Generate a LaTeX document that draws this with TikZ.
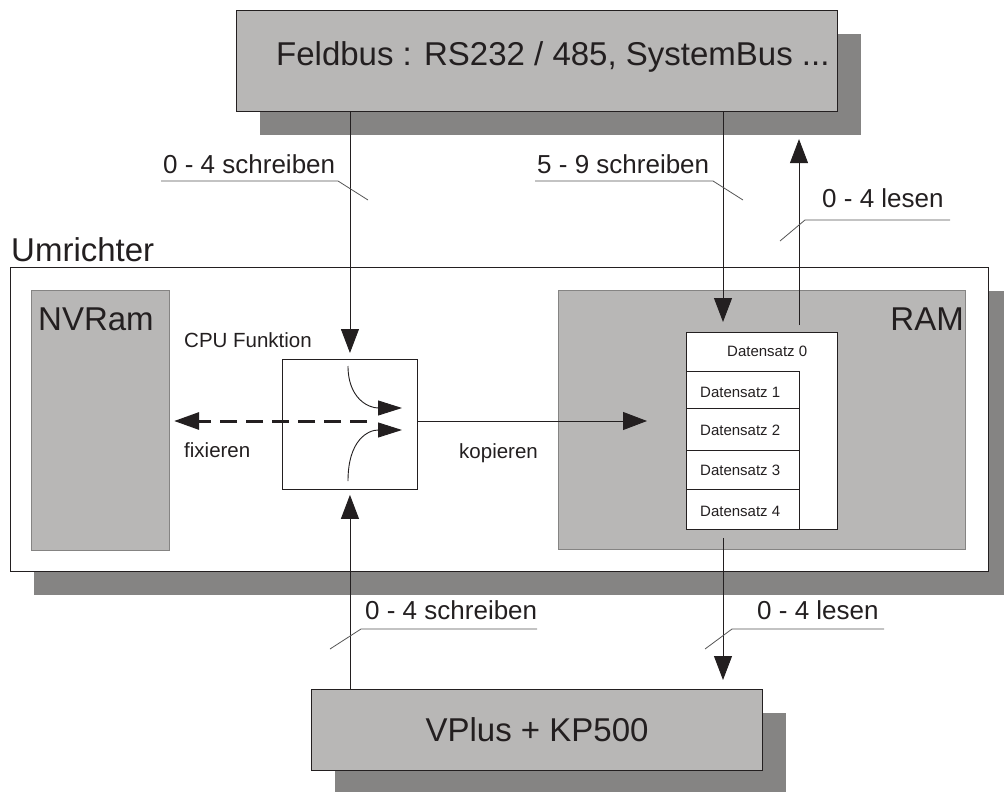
\documentclass[tikz,border=0pt]{standalone}
\usepackage{fontspec}
\setmainfont{Liberation Sans}
\usetikzlibrary{arrows.meta,shadows,calc}
\definecolor{boxgray}{RGB}{184,183,182}
\definecolor{shgray}{RGB}{133,132,131}
\definecolor{ink}{RGB}{35,31,32}
\definecolor{lead}{RGB}{85,85,85}
\begin{document}
\begin{tikzpicture}[x=1pt,y=-1pt,
  shd/.style={drop shadow={shadow xshift=23pt, shadow yshift=-23pt, fill=shgray, opacity=1}},
  gbox/.style={draw=ink, line width=1.1pt, fill=boxgray, inner sep=0pt, anchor=north west},
  wbox/.style={draw=ink, line width=0.9pt, fill=white, inner sep=0pt, anchor=north west},
  big/.style={font=\fontsize{33}{36}\selectfont, text=ink, inner sep=0pt, anchor=base west},
  mid/.style={font=\fontsize{26}{28}\selectfont, text=ink, inner sep=0pt, anchor=base west},
  sml/.style={font=\fontsize{20.5}{22}\selectfont, text=ink, inner sep=0pt, anchor=base west},
  tiny/.style={font=\fontsize{15}{17}\selectfont, text=ink, inner sep=0pt, anchor=base west},
  arr/.style={draw=ink, line width=0.9pt, -{Triangle[length=24pt,width=18pt]}},
  carr/.style={draw=ink, line width=0.9pt, -{Triangle[length=24pt,width=15pt]}},
  dasharr/.style={draw=ink, line width=3pt, dash pattern=on 17pt off 9pt, -{Triangle[length=25pt,width=17pt]}},
  leader/.style={draw=lead, line width=0.8pt}
]
\useasboundingbox (0,0) rectangle (1004,792);

% main boxes with shadows
\node[wbox, shd, line width=1.1pt, minimum width=978pt, minimum height=304pt] (umr) at (10,267) {};
\node[gbox, shd, minimum width=601pt, minimum height=101pt] (feld) at (236,10) {};
\node[gbox, shd, minimum width=451pt, minimum height=81pt] (vplus) at (311,689) {};

\node[big] (feldt) at (276,66) {Feldbus : RS232 / 485, SystemBus ...};
\node[big, anchor=center] (vplust) at (vplus.center) {VPlus + KP500};
\node[big] (umrt) at (11,261) {Umrichter};

% inner boxes
\node[gbox, draw=shgray, minimum width=138pt, minimum height=260pt] (nv) at (31,290) {};
\node[big] (nvt) at (38,330) {NVRam};
\node[gbox, draw=shgray, minimum width=407pt, minimum height=259pt] (ram) at (558,290) {};
\node[big, anchor=base east] (ramt) at (964,330) {RAM};
\node[wbox, minimum width=135pt, minimum height=130pt] (cpu) at (282,359) {};
\node[sml] (cput) at (184,347) {CPU Funktion};
\node[sml] (fixt) at (184,457) {fixieren};
\node[sml] (kopt) at (459,458) {kopieren};

% Datensatz block
\node[wbox, minimum width=151pt, minimum height=197pt] (ds) at (686,332) {};
\node[wbox, minimum width=113pt, minimum height=37pt] (ds1) at (686,371) {};
\node[wbox, minimum width=113pt, minimum height=42pt] (ds2) at (686,408) {};
\node[wbox, minimum width=113pt, minimum height=39pt] (ds3) at (686,450) {};
\node[wbox, minimum width=113pt, minimum height=40pt] (ds4) at (686,489) {};
\node[tiny] (ds0t) at (727,356) {Datensatz 0};
\node[tiny] (ds1t) at (700,397) {Datensatz 1};
\node[tiny] (ds2t) at (700,435) {Datensatz 2};
\node[tiny] (ds3t) at (700,475) {Datensatz 3};
\node[tiny] (ds4t) at (700,516) {Datensatz 4};

% helper coordinates
\coordinate (xw) at (723,0);
\coordinate (xr) at (799,0);
\coordinate (dstart) at (367,421);
\coordinate (ktip) at (647,421);
\coordinate (c1a) at (348,366);
\coordinate (c1b) at (402,408);
\coordinate (c2a) at (348,481);
\coordinate (c2b) at (402,430);

% connectors
\draw[arr, shorten >=6pt] (cpu.north |- feld.south) -- (cpu.north);
\draw[arr, shorten >=5pt] (cpu.south |- vplus.north) -- (cpu.south);
\draw[arr, shorten >=10pt] (xw |- feld.south) -- (xw |- ds.north);
\draw[arr, shorten <=7pt, shorten >=27pt] (xr |- ds.north) -- (xr |- feld.south);
\draw[arr, shorten <=8pt, shorten >=9pt] (xw |- ds.south) -- (xw |- vplus.north);
\draw[arr] (cpu.east |- ktip) -- (ktip);
\draw[dasharr, shorten >=4pt] (dstart) -- (nv.east |- dstart);
\draw[carr] (c1a) .. controls (348,398) and (368,408) .. (c1b);
\draw[carr] (c2a) .. controls (348,440) and (368,430) .. (c2b);

% labels with leader lines
\node[mid] (l1) at (163,173) {0 - 4 schreiben};
\draw[leader] (161,181) -- (338,181) -- (368,200);
\node[mid] (l2) at (537,173) {5 - 9 schreiben};
\draw[leader] (535,181) -- (713,181) -- (743,200);
\node[mid] (l3) at (822,207) {0 - 4 lesen};
\draw[leader] (780,241) -- (805,220) -- (950,220);
\node[mid] (l4) at (365,619) {0 - 4 schreiben};
\draw[leader] (330,649) -- (361,629) -- (537,629);
\node[mid] (l5) at (757,619) {0 - 4 lesen};
\draw[leader] (705,649) -- (732,629) -- (884,629);
\end{tikzpicture}
\end{document}
